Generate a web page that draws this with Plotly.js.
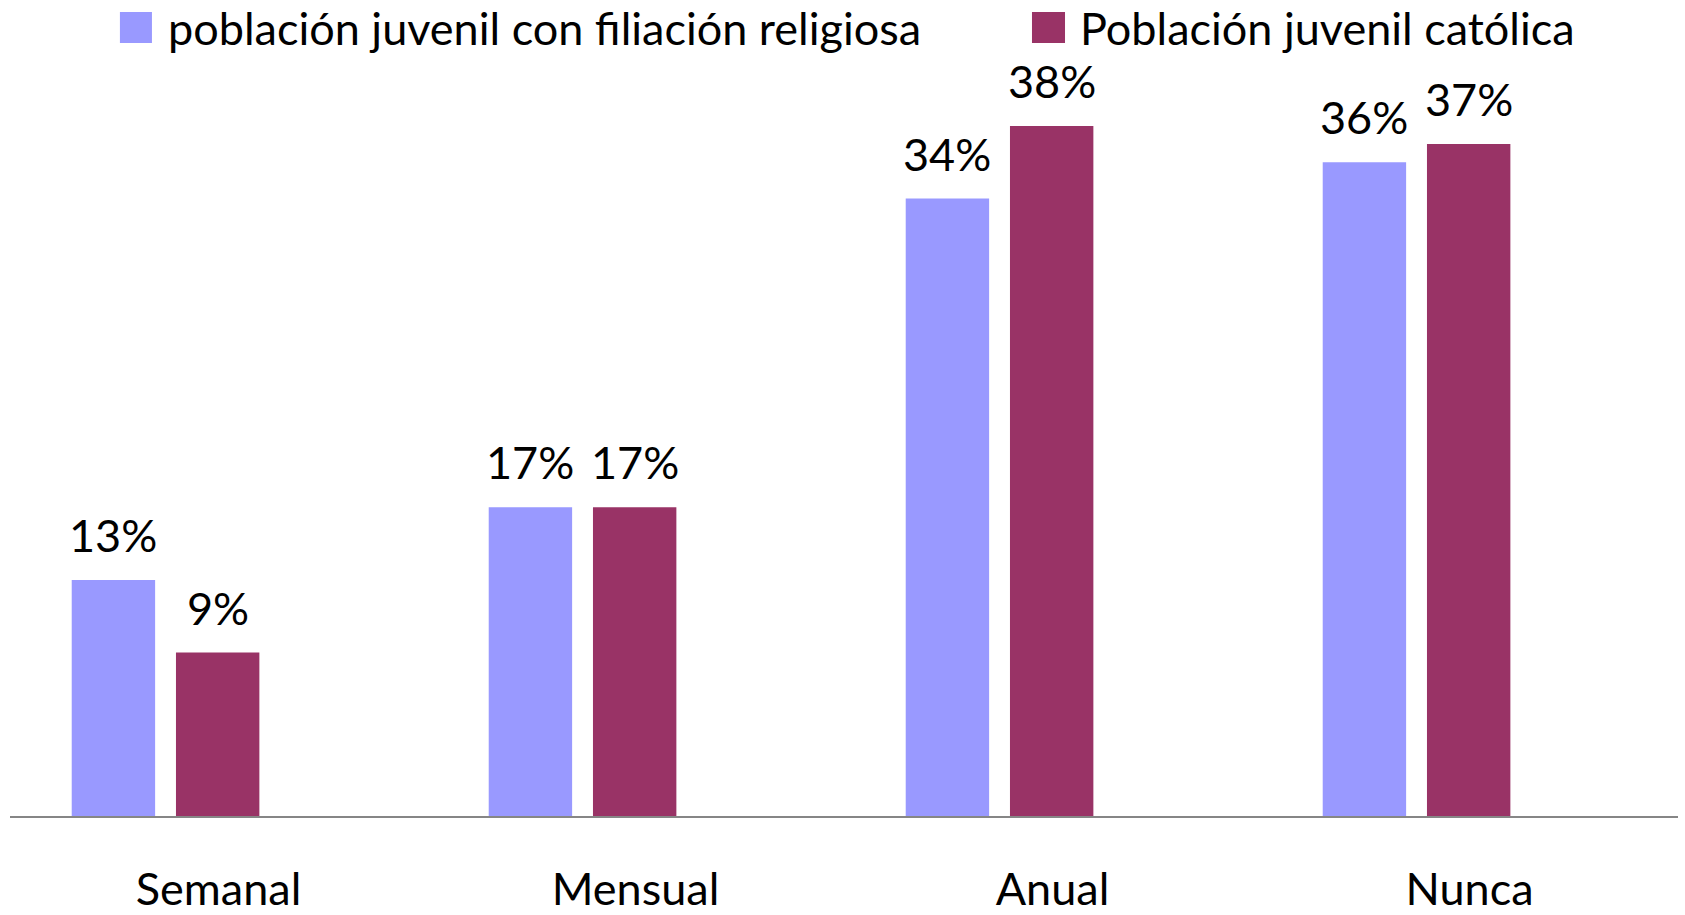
<!DOCTYPE html>
<html>
<head>
<meta charset="utf-8">
<script src="https://cdn.plot.ly/plotly-3.0.1.min.js"></script>
<style>
  html, body { margin: 0; padding: 0; background: #fff; }
  #chart { width: 1685px; height: 915px; }
</style>
</head>
<body>
<div id="chart"></div>
<script>
// ---- data ----
const categories = ["Semanal", "Mensual", "Anual", "Nunca"];
const seriesNames = ["población juvenil con filiación religiosa", "Población juvenil católica"];
const religiosa = [13, 17, 34, 36];
const catolica = [9, 17, 38, 37];
const seriesColors = ["#9999FF", "#993366"];

// ---- styling / layout constants ----
const FONT = "Lato, 'Open Sans', sans-serif";
const FS = 45;
const BAR_W = 0.2;
const OFFSETS = [-0.352, -0.102];
const PX_PER_CAT = 417;

const seriesValues = [religiosa, catolica];

const traces = seriesValues.map((vals, i) => ({
  type: "bar",
  name: seriesNames[i],
  x: categories,
  y: vals,
  width: BAR_W,
  offset: OFFSETS[i],
  marker: { color: seriesColors[i], line: { width: 0 } },
  hoverinfo: "x+y+name",
  showlegend: false
}));

const annotations = [];
seriesValues.forEach((vals, i) => {
  const centerShift = (OFFSETS[i] + BAR_W / 2) * PX_PER_CAT;
  vals.forEach((v, j) => {
    annotations.push({
      x: categories[j], y: v, xref: "x", yref: "y",
      text: v + "%", showarrow: false,
      xanchor: "center", yanchor: "bottom",
      xshift: centerShift, yshift: 16,
      font: { family: FONT, size: FS, color: "#000" }
    });
  });
});

// custom legend (large square markers as in the reference)
const legendItems = [
  { sq: [0.0659, 0.0851], textX: 0.0935 },
  { sq: [0.6127, 0.6325], textX: 0.6403 }
];
const shapes = [];
legendItems.forEach((it, i) => {
  shapes.push({
    type: "rect", xref: "paper", yref: "paper",
    x0: it.sq[0], x1: it.sq[1], y0: 1.0091, y1: 1.0496,
    fillcolor: seriesColors[i], line: { width: 0 }
  });
  annotations.push({
    xref: "paper", yref: "paper", x: it.textX, y: 1.029,
    xanchor: "left", yanchor: "middle", showarrow: false,
    text: seriesNames[i],
    font: { family: FONT, size: FS, color: "#000" }
  });
});

const layout = {
  width: 1685, height: 915,
  margin: { l: 10, r: 7, t: 50, b: 99, pad: 0 },
  paper_bgcolor: "#fff", plot_bgcolor: "#fff",
  barmode: "overlay",
  showlegend: false,
  font: { family: FONT, size: FS, color: "#000" },
  xaxis: {
    type: "category",
    range: [-0.5, 3.5],
    showline: true, linecolor: "#868686", linewidth: 2,
    ticks: "", showgrid: false, zeroline: false,
    tickfont: { family: FONT, size: FS, color: "#000" },
    ticklabelstandoff: 33
  },
  yaxis: {
    range: [0, 42.18],
    visible: false, showgrid: false, zeroline: false
  },
  shapes: shapes,
  annotations: annotations
};

Plotly.newPlot("chart", traces, layout, { displayModeBar: false, staticPlot: true });
</script>
</body>
</html>
